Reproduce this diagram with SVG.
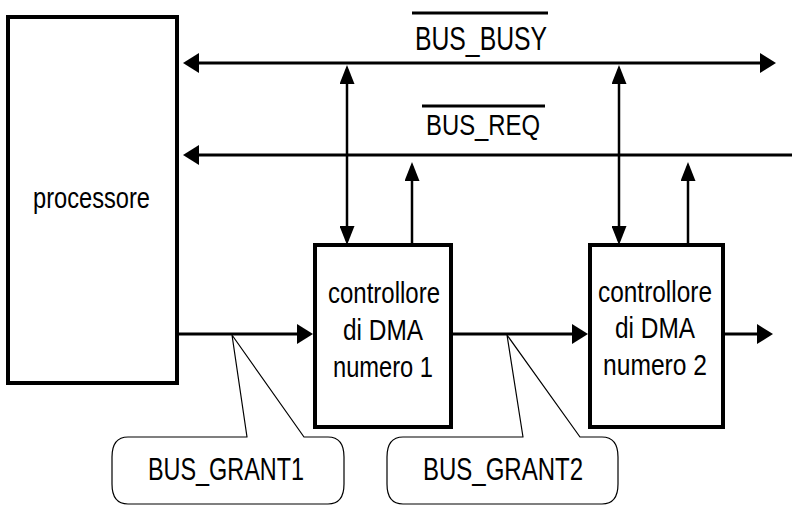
<svg xmlns="http://www.w3.org/2000/svg" width="792" height="514" viewBox="0 0 792 514">
<style>
text{font-family:"Liberation Sans",Arial,sans-serif;fill:#000;text-anchor:middle}
.box{fill:#fff;stroke:#000;stroke-width:4}
.bus{fill:none;stroke:#000;stroke-width:3}
.vert{fill:none;stroke:#000;stroke-width:2.5}
.call{fill:#fff;stroke:#000;stroke-width:1.2;stroke-linejoin:round}
.ov{stroke:#000;stroke-width:3}
</style>
<defs>
<marker id="ah" markerUnits="userSpaceOnUse" viewBox="0 0 16 20" markerWidth="16" markerHeight="20" refX="12" refY="10" orient="auto-start-reverse"><path d="M0,0 L16,10 L0,20 Z" fill="#000"/></marker>
<marker id="av" markerUnits="userSpaceOnUse" viewBox="0 0 19 15" markerWidth="19" markerHeight="15" refX="15" refY="7.5" orient="auto-start-reverse"><path d="M0,0 L19,7.5 L0,15 Z" fill="#000"/></marker>
</defs>
<rect width="792" height="514" fill="#fff"/>
<g id="connectors">
<line class="bus" x1="187" y1="63" x2="772" y2="63" marker-start="url(#ah)" marker-end="url(#ah)"/>
<line class="bus" x1="792" y1="155" x2="187" y2="155" marker-end="url(#ah)"/>
<line class="vert" x1="347" y1="69" x2="347" y2="241" marker-start="url(#av)" marker-end="url(#av)"/>
<line class="vert" x1="619" y1="69" x2="619" y2="241" marker-start="url(#av)" marker-end="url(#av)"/>
<line class="vert" x1="412" y1="245" x2="412" y2="166" marker-end="url(#av)"/>
<line class="vert" x1="688" y1="245" x2="688" y2="166" marker-end="url(#av)"/>
<line class="bus" x1="177" y1="334" x2="309" y2="334" marker-end="url(#ah)"/>
<line class="bus" x1="451" y1="334" x2="584" y2="334" marker-end="url(#ah)"/>
<line class="bus" x1="723" y1="334" x2="769" y2="334" marker-end="url(#ah)"/>
</g>
<g id="processore">
<rect class="box" x="8" y="17" width="169" height="366"/>
<text x="91.5" y="208" font-size="30" textLength="117" lengthAdjust="spacingAndGlyphs">processore</text>
</g>
<g id="bus_busy">
<line class="ov" x1="412" y1="13" x2="548" y2="13"/>
<text x="481" y="50" font-size="33" textLength="132" lengthAdjust="spacingAndGlyphs">BUS_BUSY</text>
</g>
<g id="bus_req">
<line class="ov" x1="422" y1="106" x2="545" y2="106"/>
<text x="483" y="135" font-size="30" textLength="114" lengthAdjust="spacingAndGlyphs">BUS_REQ</text>
</g>
<g id="dma1">
<rect class="box" x="315" y="245" width="136" height="182"/>
<text x="384" y="303" font-size="29" textLength="112" lengthAdjust="spacingAndGlyphs">controllore</text>
<text x="383" y="340" font-size="29" textLength="80" lengthAdjust="spacingAndGlyphs">di DMA</text>
<text x="383" y="377" font-size="29" textLength="100" lengthAdjust="spacingAndGlyphs">numero 1</text>
</g>
<g id="dma2">
<rect class="box" x="590" y="245" width="133" height="182"/>
<text x="655" y="302" font-size="29" textLength="114" lengthAdjust="spacingAndGlyphs">controllore</text>
<text x="655" y="338" font-size="29" textLength="80" lengthAdjust="spacingAndGlyphs">di DMA</text>
<text x="655" y="375" font-size="29" textLength="104" lengthAdjust="spacingAndGlyphs">numero 2</text>
</g>
<g id="bus_grant1">
<path class="call" d="M247,437 L232,335 L304,437 L328,437 Q344,437 344,457 L344,484 Q344,504 328,504 L128,504 Q112,504 112,484 L112,457 Q112,437 128,437 Z"/>
<text x="226" y="480" font-size="31" textLength="156" lengthAdjust="spacingAndGlyphs">BUS_GRANT1</text>
</g>
<g id="bus_grant2">
<path class="call" d="M523,437 L507,335 L580,437 L602,437 Q618,437 618,457 L618,484 Q618,504 602,504 L403,504 Q387,504 387,484 L387,457 Q387,437 403,437 Z"/>
<text x="503" y="480" font-size="31" textLength="160" lengthAdjust="spacingAndGlyphs">BUS_GRANT2</text>
</g>
</svg>
